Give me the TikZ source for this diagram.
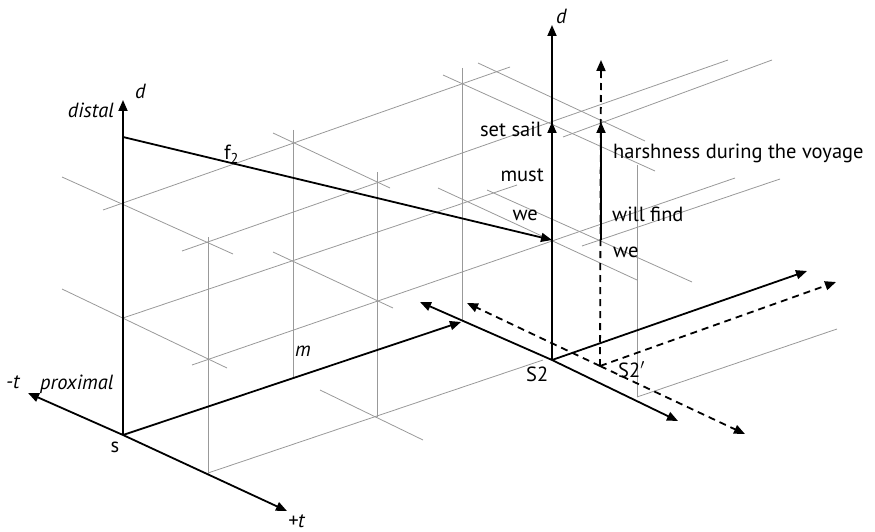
\documentclass[tikz,border=0pt]{standalone}
\usepackage{fontspec}
\setmainfont{PT Sans}
\usetikzlibrary{arrows.meta}
\tikzset{
  axis/.style={line width=1.8pt,-{Triangle[length=11pt,width=9pt]}},
  dashaxis/.style={axis,dash pattern=on 7pt off 5pt},
  gridline/.style={draw=black!40,line width=0.8pt},
  lbl/.style={inner sep=0pt,font=\fontsize{20.5}{24}\selectfont},
  ilbl/.style={inner sep=0pt,font=\fontsize{20.5}{24}\selectfont\itshape},
}
\begin{document}
\begin{tikzpicture}[x=1pt,y=-1pt]
  \useasboundingbox (0,0) rectangle (875,532);
  % --- grey lattice ---
  \draw[gridline] (208,237) -- (208,474);
  \draw[gridline] (293,130) -- (293,378);
  \draw[gridline] (377,172) -- (377,417);
  \draw[gridline] (462,68) -- (462,320);
  \draw[gridline] (637,165) -- (637,397);
  \draw[gridline] (103,210) -- (510,67);
  \draw[gridline] (182,251) -- (728,60);
  \draw[gridline] (563,137) -- (772,60);
  \draw[gridline] (123,318) -- (517,185);
  \draw[gridline] (192,365) -- (735,178);
  \draw[gridline] (582,246) -- (780,179);
  \draw[gridline] (208,473) -- (543,360);
  \draw[gridline] (637,397) -- (837,329);
  \draw[gridline] (62,177) -- (233,254);
  \draw[gridline] (273,133) -- (390,188);
  \draw[gridline] (443,75) -- (655,171);
  \draw[gridline] (478,63) -- (645,141);
  \draw[gridline] (62,289) -- (227,368);
  \draw[gridline] (273,252) -- (393,308);
  \draw[gridline] (438,188) -- (637,280);
  \draw[gridline] (487,190) -- (692,282);
  \draw[gridline] (320,390) -- (423,440);
  % --- frame at s ---
  \coordinate (s) at (123,435);
  \coordinate (dtop) at (123,100);
  \coordinate (tneg) at (28,393);
  \coordinate (tpos) at (287,511);
  \coordinate (mtip) at (461,322);
  \coordinate (fstart) at (123,137);
  \draw[axis] (s) -- (dtop);
  \draw[axis] (s) -- (tneg);
  \draw[axis] (s) -- (tpos);
  \draw[axis] (s) -- (mtip);
  % --- frame at S2 ---
  \coordinate (s2) at (552,360);
  \coordinate (s2top) at (552,25);
  \coordinate (s2we) at (552,240);
  \coordinate (s2sail) at (552,122);
  \coordinate (s2neg) at (420,302);
  \coordinate (s2pos) at (678,421);
  \coordinate (s2m) at (807,271);
  \draw[axis] (s2) -- (s2top);
  \draw[axis] (s2we) -- (s2sail);
  \draw[axis] (s2) -- (s2neg);
  \draw[axis] (s2) -- (s2pos);
  \draw[axis] (s2) -- (s2m);
  \draw[axis] (fstart) -- (s2we);
  % --- shifted frame S2' ---
  \coordinate (s2b) at (600,366);
  \coordinate (s2btop) at (601,60);
  \coordinate (s2bwe) at (601,240);
  \coordinate (s2bharsh) at (601,122);
  \coordinate (s2bneg) at (467,303);
  \coordinate (s2bpos) at (745,434);
  \coordinate (s2bm) at (836,282);
  \draw[dashaxis] (s2b) -- (s2btop);
  \draw[dashaxis] (s2b) -- (s2bneg);
  \draw[dashaxis] (s2b) -- (s2bpos);
  \draw[dashaxis] (s2b) -- (s2bm);
  \draw[axis] (s2bwe) -- (s2bharsh);
  % --- labels ---
  \node[ilbl,anchor=base west] (dlab) at (135,99) {d};
  \node[ilbl,anchor=base east] (distal) at (114,118) {distal};
  \node[ilbl,anchor=base west] (proximal) at (40,389) {proximal};
  \node[ilbl,anchor=base west] (tneglab) at (6,388) {-t};
  \node[ilbl,anchor=base west] (tposlab) at (288,527) {+t};
  \node[lbl,anchor=base] (slab) at (115,452) {s};
  \node[ilbl,anchor=base west] (mlab) at (295,356) {m};
  \node[lbl,anchor=base west] (flab) at (224,160) {f\textsubscript{2}};
  \node[ilbl,anchor=base west] (d2lab) at (556,24) {d};
  \node[lbl,anchor=base east] (sail) at (542,137) {set sail};
  \node[lbl,anchor=base east] (must) at (544,181) {must};
  \node[lbl,anchor=base east] (we) at (538,220) {we};
  \node[lbl,anchor=base west] (harsh) at (613,158) {harshness during the voyage};
  \node[lbl,anchor=base west] (find) at (612,221) {will find};
  \node[lbl,anchor=base west] (webis) at (613,257) {we};
  \node[lbl,anchor=base west] (s2lab) at (526,381) {S2};
  \node[lbl,anchor=base west] (s2blab) at (618,377) {S2$'$};
\end{tikzpicture}
\end{document}
